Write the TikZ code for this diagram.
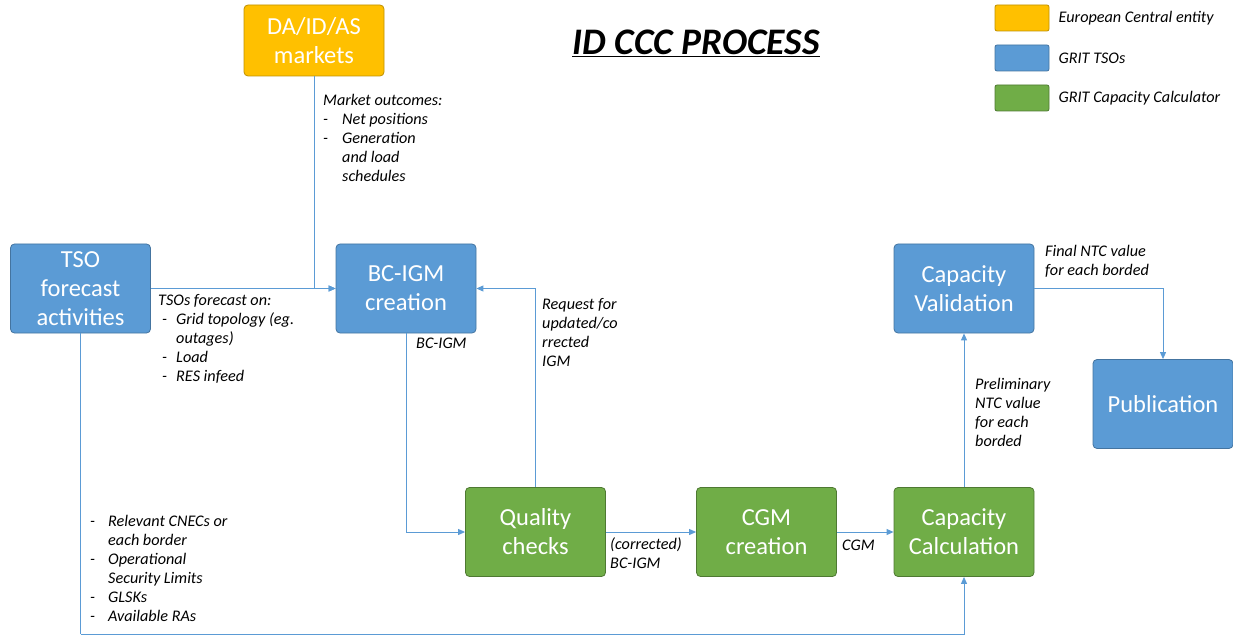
\documentclass[tikz,border=0pt]{standalone}
\usepackage{fontspec}
\setmainfont{Carlito}
\usetikzlibrary{positioning, arrows.meta}

\definecolor{tsoblue}{HTML}{5B9BD5}
\definecolor{ccgreen}{HTML}{70AD47}
\definecolor{euorange}{HTML}{FFC000}

\tikzset{
  stage/.style={rounded corners=4pt, line width=0.8pt, text=white, align=center,
    font=\fontsize{24.5}{29}\selectfont, minimum width=140pt, minimum height=89pt, inner sep=2pt},
  tsobox/.style={stage, fill=tsoblue, draw=tsoblue!75!black},
  ccbox/.style={stage, fill=ccgreen, draw=ccgreen!70!black},
  eubox/.style={stage, fill=euorange, draw=euorange!75!black},
  keybox/.style={rounded corners=2pt, line width=0.8pt, minimum width=54pt, minimum height=26pt, inner sep=0pt},
  note/.style={anchor=north west, inner sep=0pt, font=\fontsize{16.2}{19}\selectfont\itshape},
  flow/.style={draw=tsoblue, line width=0.9pt, -{Triangle[length=7pt,width=6pt]}},
  wire/.style={draw=tsoblue, line width=0.9pt}
}

\begin{document}
\begin{tikzpicture}[x=1pt, y=-1pt]
\useasboundingbox (0,0) rectangle (1233,636);

% title
\node[font=\fontsize{37.5}{42}\selectfont\bfseries\itshape] (title) at (696,43) {\underline{ID CCC PROCESS}};

% legend
\node[keybox, fill=euorange, draw=euorange!75!black] (keyeu) at (1022,18) {};
\node[keybox, fill=tsoblue, draw=tsoblue!75!black] (keytso) at (1022,58) {};
\node[keybox, fill=ccgreen, draw=ccgreen!70!black] (keycc) at (1022,98) {};
\node[anchor=west, inner sep=0pt, font=\fontsize{16.2}{19}\selectfont\itshape, right=9pt of keyeu] (keyeutxt) {European Central entity};
\node[anchor=west, inner sep=0pt, font=\fontsize{16.2}{19}\selectfont\itshape, right=9pt of keytso] (keytsotxt) {GRIT TSOs};
\node[anchor=west, inner sep=0pt, font=\fontsize{16.2}{19}\selectfont\itshape, right=9pt of keycc] (keycctxt) {GRIT Capacity Calculator};

% process steps
\node[eubox, minimum height=71pt] (markets) at (314,40.5) {DA/ID/AS\\markets};
\node[tsobox] (tso) at (80.5,288.5) {TSO\\forecast\\activities};
\node[tsobox] (bcigm) at (406,288.5) {BC-IGM\\creation};
\node[tsobox] (valid) at (964,288.5) {Capacity\\Validation};
\node[tsobox] (pub) at (1163,404) {Publication};
\node[ccbox] (quality) at (535.5,532) {Quality\\checks};
\node[ccbox] (cgm) at (766.5,532) {CGM\\creation};
\node[ccbox] (calc) at (964,532) {Capacity\\Calculation};

\coordinate (low) at (0,634);

% connectors
\draw[flow] (tso.east) -- (bcigm.west);
\draw[flow] (markets.south) |- (bcigm.west);
\draw[flow] (bcigm.south) |- (quality.west);
\draw[flow] (quality.north) |- (bcigm.east);
\draw[flow] (quality.east) -- (cgm.west);
\draw[flow] (cgm.east) -- (calc.west);
\draw[flow] (calc.north) -- (valid.south);
\draw[flow] (valid.east) -| (pub.north);
\draw[wire] (tso.south) -- (tso.south |- low);
\draw[flow] (tso.south |- low) -| (calc.south);

% labels
\node[note] (mktnote) at (323,92.5) {\begin{tabular}{@{}p{19pt}@{}l@{}}
\multicolumn{2}{@{}l@{}}{Market outcomes:}\\
- & Net positions\\
- & Generation\\
  & and load\\
  & schedules
\end{tabular}};
\node[note] (tsonote) at (158,291.5) {\begin{tabular}{@{\hspace{4pt}}p{14pt}@{}l@{}}
\multicolumn{2}{@{}l@{}}{TSOs forecast on:}\\
- & Grid topology (eg.\\
  & outages)\\
- & Load\\
- & RES infeed
\end{tabular}};
\node[note] (bcnote) at (416,337.5) {BC-IGM};
\node[note] (reqnote) at (542,295.5) {\begin{tabular}{@{}l@{}}
Request for\\ updated/co\\ rrected\\ IGM
\end{tabular}};
\node[note] (corrnote) at (610,535.5) {\begin{tabular}{@{}l@{}}
(corrected)\\ BC-IGM
\end{tabular}};
\node[note] (cgmnote) at (842,539.5) {CGM};
\node[note] (prelnote) at (975,375.5) {\begin{tabular}{@{}l@{}}
Preliminary\\ NTC value\\ for each\\ borded
\end{tabular}};
\node[note] (finalnote) at (1045,243.5) {\begin{tabular}{@{}l@{}}
Final NTC value\\ for each borded
\end{tabular}};
\node[note] (inputnote) at (88,512.5) {\begin{tabular}{@{\hspace{2pt}}p{18pt}@{}l@{}}
- & Relevant CNECs or\\
  & each border\\
- & Operational\\
  & Security Limits\\
- & GLSKs\\
- & Available RAs
\end{tabular}};

\end{tikzpicture}
\end{document}
